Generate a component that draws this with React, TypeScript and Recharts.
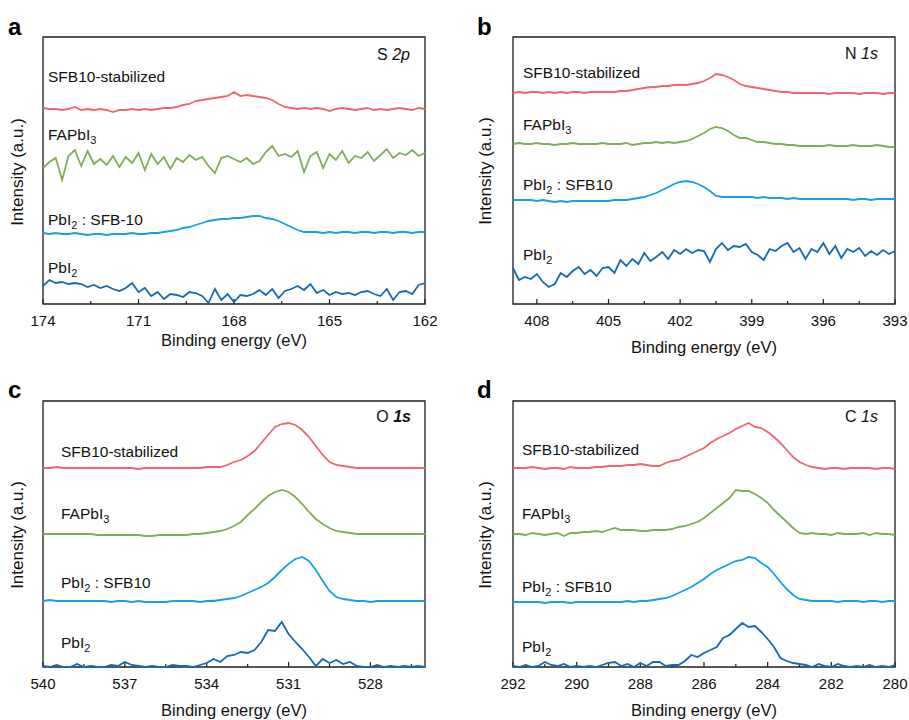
import { LineChart, Line, XAxis, YAxis, ReferenceArea, ReferenceLine } from "recharts";

// Binding energies (eV) and intensities (a.u., offset-stacked)

const energyS2p = [
  174, 173.8, 173.6, 173.4, 173.2, 173, 172.8, 172.6, 172.4, 172.2,
  172, 171.8, 171.6, 171.4, 171.2, 171, 170.8, 170.6, 170.4, 170.2,
  170, 169.8, 169.6, 169.4, 169.2, 169, 168.8, 168.6, 168.4, 168.2,
  168, 167.8, 167.6, 167.4, 167.2, 167, 166.8, 166.6, 166.4, 166.2,
  166, 165.8, 165.6, 165.4, 165.2, 165, 164.8, 164.6, 164.4, 164.2,
  164, 163.8, 163.6, 163.4, 163.2, 163, 162.8, 162.6, 162.4, 162.2,
  162,
];
const s2pStabilized = [
  196, 195, 195, 194, 195, 197, 194, 195, 194, 195,
  194, 192, 194, 194, 195, 194, 195, 194, 195, 196,
  196, 197, 199, 200, 203, 204, 205, 206, 207, 208,
  212, 208, 209, 208, 207, 206, 204, 200, 197, 196,
  195, 196, 195, 196, 195, 193, 195, 196, 195, 194,
  195, 196, 194, 195, 194, 195, 196, 195, 194, 196,
  195,
];
const s2pFapbi3 = [
  136, 142, 146, 124, 148, 154, 138, 153, 140, 145,
  139, 148, 137, 147, 141, 151, 134, 150, 140, 147,
  135, 146, 142, 149, 144, 147, 138, 131, 146, 148,
  145, 142, 146, 140, 143, 152, 158, 148, 150, 147,
  153, 132, 148, 152, 136, 150, 144, 153, 141, 148,
  146, 152, 143, 149, 155, 146, 151, 149, 154, 148,
  151,
];
const s2pMixed = [
  71, 70, 71, 70, 70, 71, 70, 69, 70, 70,
  69, 70, 70, 70, 71, 70, 70, 71, 71, 72,
  73, 74, 76, 77, 79, 81, 83, 84, 85, 85,
  86, 86, 87, 88, 88, 86, 85, 83, 80, 77,
  74, 72, 72, 72, 71, 72, 71, 72, 72, 71,
  72, 72, 71, 72, 72, 71, 72, 72, 71, 72,
  72,
];
const s2pPbi2 = [
  18, 24, 21, 22, 20, 21, 20, 17, 19, 16,
  18, 15, 13, 16, 21, 12, 16, 8, 12, 5,
  10, 9, 7, 12, 11, 8, 1, 15, 4, 10,
  2, 9, 8, 10, 14, 9, 15, 6, 13, 15,
  18, 14, 20, 11, 14, 9, 12, 10, 11, 9,
  12, 13, 10, 8, 15, 4, 12, 13, 10, 19,
  21,
];

const energyN1s = [
  409, 408.75, 408.5, 408.25, 408, 407.75, 407.5, 407.25, 407, 406.75,
  406.5, 406.25, 406, 405.75, 405.5, 405.25, 405, 404.75, 404.5, 404.25,
  404, 403.75, 403.5, 403.25, 403, 402.75, 402.5, 402.25, 402, 401.75,
  401.5, 401.25, 401, 400.75, 400.5, 400.25, 400, 399.75, 399.5, 399.25,
  399, 398.75, 398.5, 398.25, 398, 397.75, 397.5, 397.25, 397, 396.75,
  396.5, 396.25, 396, 395.75, 395.5, 395.25, 395, 394.75, 394.5, 394.25,
  394, 393.75, 393.5, 393.25, 393,
];
const n1sStabilized = [
  211, 212, 211, 212, 212, 211, 212, 211, 212, 211,
  212, 212, 211, 212, 212, 212, 212, 212, 213, 213,
  214, 215, 216, 217, 217, 218, 218, 219, 219, 219,
  220, 221, 223, 226, 230, 229, 227, 224, 220, 218,
  217, 216, 215, 214, 213, 212, 212, 211, 211, 211,
  211, 211, 211, 210, 211, 211, 211, 211, 210, 211,
  211, 211, 210, 211, 211,
];
const n1sFapbi3 = [
  160, 161, 160, 160, 161, 160, 160, 159, 160, 160,
  161, 160, 160, 160, 160, 161, 160, 160, 160, 161,
  159, 160, 161, 161, 162, 161, 162, 161, 162, 163,
  165, 168, 171, 175, 177, 176, 173, 169, 166, 166,
  164, 162, 162, 161, 160, 160, 159, 159, 158, 158,
  158, 158, 158, 159, 158, 158, 158, 159, 158, 158,
  158, 159, 158, 157, 157,
];
const n1sMixed = [
  104, 104, 104, 104, 103, 104, 103, 102, 103, 102,
  103, 103, 103, 103, 103, 103, 103, 104, 104, 104,
  105, 106, 107, 109, 111, 114, 117, 120, 122, 123,
  122, 120, 117, 113, 108, 107, 107, 107, 107, 107,
  107, 106, 107, 106, 106, 106, 105, 106, 105, 105,
  105, 105, 105, 105, 105, 105, 105, 104, 105, 105,
  104, 105, 105, 105, 105,
];
const n1sPbi2 = [
  36, 24, 27, 25, 30, 22, 17, 20, 31, 27,
  33, 37, 30, 34, 28, 36, 37, 31, 44, 38,
  45, 40, 51, 43, 47, 52, 45, 54, 50, 55,
  51, 54, 53, 42, 55, 61, 54, 58, 57, 60,
  52, 49, 44, 55, 53, 58, 61, 52, 56, 45,
  55, 52, 61, 50, 58, 46, 55, 52, 56, 48,
  53, 49, 54, 50, 53,
];

const energyO1s = [
  540, 539.75, 539.5, 539.25, 539, 538.75, 538.5, 538.25, 538, 537.75,
  537.5, 537.25, 537, 536.75, 536.5, 536.25, 536, 535.75, 535.5, 535.25,
  535, 534.75, 534.5, 534.25, 534, 533.75, 533.5, 533.25, 533, 532.75,
  532.5, 532.25, 532, 531.75, 531.5, 531.25, 531, 530.75, 530.5, 530.25,
  530, 529.75, 529.5, 529.25, 529, 528.75, 528.5, 528.25, 528, 527.75,
  527.5, 527.25, 527, 526.75, 526.5, 526.25, 526,
];
const o1sStabilized = [
  199, 199, 200, 199, 199, 199, 199, 199, 199, 199,
  199, 199, 199, 199, 198, 199, 199, 199, 199, 199,
  199, 199, 199, 199, 200, 200, 200, 202, 205, 207,
  211, 216, 224, 232, 240, 243, 244, 242, 237, 230,
  221, 212, 205, 202, 201, 200, 199, 199, 199, 199,
  199, 199, 199, 199, 199, 199, 199,
];
const o1sFapbi3 = [
  133, 133, 133, 133, 133, 133, 133, 133, 132, 132,
  132, 132, 132, 132, 132, 131, 131, 132, 132, 132,
  132, 132, 133, 133, 134, 135, 136, 138, 141, 145,
  152, 158, 165, 171, 175, 177, 175, 170, 163, 155,
  148, 143, 139, 136, 135, 134, 133, 133, 133, 133,
  133, 133, 133, 133, 133, 133, 133,
];
const o1sMixed = [
  66, 67, 66, 66, 66, 66, 66, 66, 66, 66,
  65, 66, 66, 65, 66, 65, 65, 65, 65, 66,
  66, 66, 66, 65, 66, 66, 67, 68, 69, 71,
  74, 77, 80, 84, 90, 97, 103, 108, 110, 106,
  97, 86, 76, 70, 68, 67, 66, 66, 65, 66,
  66, 66, 66, 66, 66, 66, 66,
];
const o1sPbi2 = [
  1, 0, 2, 0, 0, 3, 0, 1, 0, 0,
  2, 1, 5, 2, 1, 0, 1, 0, 0, 2,
  1, 1, 0, 2, 4, 8, 5, 11, 12, 15,
  14, 17, 25, 37, 36, 45, 33, 25, 18, 10,
  1, 8, 4, 7, 3, 5, 1, 0, 0, 2,
  0, 1, 0, 1, 0, 1, 0,
];

const energyC1s = [
  292, 291.8, 291.6, 291.4, 291.2, 291, 290.8, 290.6, 290.4, 290.2,
  290, 289.8, 289.6, 289.4, 289.2, 289, 288.8, 288.6, 288.4, 288.2,
  288, 287.8, 287.6, 287.4, 287.2, 287, 286.8, 286.6, 286.4, 286.2,
  286, 285.8, 285.6, 285.4, 285.2, 285, 284.8, 284.6, 284.4, 284.2,
  284, 283.8, 283.6, 283.4, 283.2, 283, 282.8, 282.6, 282.4, 282.2,
  282, 281.8, 281.6, 281.4, 281.2, 281, 280.8, 280.6, 280.4, 280.2,
  280,
];
const c1sStabilized = [
  199, 199, 199, 200, 199, 198, 199, 199, 198, 200,
  199, 199, 199, 200, 200, 201, 201, 201, 202, 202,
  203, 202, 201, 201, 204, 206, 207, 210, 213, 216,
  219, 224, 228, 231, 234, 238, 241, 244, 240, 239,
  235, 230, 224, 217, 210, 205, 202, 200, 199, 198,
  199, 199, 198, 199, 199, 199, 199, 198, 199, 199,
  198,
];
const c1sFapbi3 = [
  133, 133, 132, 134, 133, 132, 133, 134, 131, 134,
  134, 135, 135, 136, 135, 137, 139, 137, 137, 137,
  136, 136, 137, 137, 137, 138, 140, 141, 143, 145,
  149, 154, 159, 164, 169, 177, 176, 176, 173, 169,
  164, 157, 151, 145, 139, 134, 133, 134, 133, 133,
  132, 134, 133, 133, 133, 134, 132, 134, 133, 133,
  132,
];
const c1sMixed = [
  65, 65, 65, 65, 65, 64, 65, 65, 65, 64,
  65, 65, 65, 65, 65, 65, 65, 65, 66, 65,
  66, 66, 67, 68, 69, 71, 74, 77, 80, 84,
  88, 93, 97, 100, 103, 106, 107, 110, 109, 104,
  100, 93, 85, 78, 72, 68, 67, 66, 66, 66,
  66, 65, 66, 66, 66, 65, 66, 66, 65, 66,
  66,
];
const c1sPbi2 = [
  1, 0, 2, 0, 1, 5, 2, 1, 3, 0,
  1, 0, 1, 0, 2, 4, 5, 1, 3, 0,
  4, 1, 5, 5, 1, 2, 2, 6, 12, 10,
  14, 17, 20, 29, 32, 38, 44, 40, 41, 35,
  28, 20, 9, 6, 4, 3, 2, 0, 3, 1,
  0, 3, 1, 0, 1, 0, 2, 0, 1, 0,
  2,
];

// axis ticks (majors get a label, the rest are short minor ticks)
const ticksS2p = [174, 172.5, 171, 169.5, 168, 166.5, 165, 163.5, 162];
const majorsS2p = [174, 171, 168, 165, 162];
const ticksN1s = [408, 406.5, 405, 403.5, 402, 400.5, 399, 397.5, 396, 394.5, 393];
const majorsN1s = [408, 405, 402, 399, 396, 393];
const ticksO1s = [540, 538.5, 537, 535.5, 534, 532.5, 531, 529.5, 528, 526.5];
const majorsO1s = [540, 537, 534, 531, 528];
const ticksC1s = [292, 291, 290, 289, 288, 287, 286, 285, 284, 283, 282, 281, 280];
const majorsC1s = [292, 290, 288, 286, 284, 282, 280];

const FONT = "Arial, 'Liberation Sans', Helvetica, sans-serif";
const AXIS = "#1e1e1e";
const COLORS = {
  stabilized: "#f0666a",
  fapbi3: "#80ad5b",
  mixed: "#1aa0e2",
  pbi2: "#1868b7",
};

function buildRows(energy: number[], s: number[], f: number[], m: number[], p: number[]) {
  return energy.map((e, i) => ({ e, stabilized: s[i], fapbi3: f[i], mixed: m[i], pbi2: p[i] }));
}

// tick labels only; the tick marks themselves are drawn inward as reference segments
const makeTick = (majors: number[]) => (props: any) => {
  const { x, y, payload } = props;
  const v = payload.value;
  if (!majors.includes(v)) return <g />;
  return (
    <text x={x} y={y + 16} textAnchor="middle" dominantBaseline="central" fontSize={15} fontFamily={FONT} fill="#111">
      {v}
    </text>
  );
};

interface PanelProps {
  left: number;
  top: number;
  width: number;
  margin: { top: number; right: number; bottom: number; left: number };
  domain: [number, number];
  ticks: number[];
  majors: number[];
  rows: any[];
  yMax: number;
}

function Panel({ left, top, width, margin, domain, ticks, majors, rows, yMax }: PanelProps) {
  return (
    <div style={{ position: "absolute", left, top, width, height: 360 }}>
      <LineChart width={width} height={360} data={rows} margin={margin}>
        <XAxis
          dataKey="e"
          type="number"
          domain={domain}
          reversed
          ticks={ticks}
          interval={0}
          height={50}
          tickSize={0}
          tickMargin={0}
          tickLine={false}
          axisLine={false}
          tick={makeTick(majors)}
        />
        <YAxis type="number" domain={[0, yMax]} hide />
        <ReferenceArea
          x1={domain[0]}
          x2={domain[1]}
          y1={0}
          y2={yMax}
          fill="none"
          fillOpacity={0}
          stroke={AXIS}
          strokeWidth={1.3}
          strokeOpacity={1}
        />
        {ticks.map((t) => (
          <ReferenceLine
            key={t}
            segment={[
              { x: t, y: 0 },
              { x: t, y: majors.includes(t) ? 5 : 3 },
            ]}
            stroke={AXIS}
            strokeWidth={1.2}
          />
        ))}
        <Line type="linear" dataKey="stabilized" stroke={COLORS.stabilized} strokeWidth={1.8} dot={false} isAnimationActive={false} />
        <Line type="linear" dataKey="fapbi3" stroke={COLORS.fapbi3} strokeWidth={1.8} dot={false} isAnimationActive={false} />
        <Line type="linear" dataKey="mixed" stroke={COLORS.mixed} strokeWidth={1.8} dot={false} isAnimationActive={false} />
        <Line type="linear" dataKey="pbi2" stroke={COLORS.pbi2} strokeWidth={1.8} dot={false} isAnimationActive={false} />
      </LineChart>
    </div>
  );
}

function Sub({ base, sub, rest }: { base: string; sub: string; rest?: string }) {
  return (
    <>
      {base}
      <tspan dy={4} fontSize={11}>
        {sub}
      </tspan>
      {rest && <tspan dy={-4}>{rest}</tspan>}
    </>
  );
}

function SeriesLabels({ x, ys, mixedName }: { x: number; ys: number[]; mixedName: string }) {
  return (
    <g fontSize={15.5} fontFamily={FONT} fill="#111">
      <text x={x} y={ys[0]}>SFB10-stabilized</text>
      <text x={x} y={ys[1]}>
        <Sub base="FAPbI" sub="3" />
      </text>
      <text x={x} y={ys[2]}>
        <Sub base="PbI" sub="2" rest={` : ${mixedName}`} />
      </text>
      <text x={x} y={ys[3]}>
        <Sub base="PbI" sub="2" />
      </text>
    </g>
  );
}

function Overlay() {
  const ylab = (cx: number, cy: number) => (
    <text
      x={cx}
      y={cy}
      transform={`rotate(-90 ${cx} ${cy})`}
      textAnchor="middle"
      dominantBaseline="central"
      fontSize={17}
      fontFamily={FONT}
      fill="#111"
    >
      Intensity (a.u.)
    </text>
  );
  const xlab = (cx: number, cy: number) => (
    <text x={cx} y={cy} textAnchor="middle" dominantBaseline="central" fontSize={16.5} fontFamily={FONT} fill="#111">
      Binding energy (eV)
    </text>
  );
  return (
    <svg width={909} height={720} style={{ position: "absolute", left: 0, top: 0, pointerEvents: "none" }}>
      <g fontSize={24} fontWeight="bold" fontFamily={FONT} fill="#000">
        <text x={8} y={35}>a</text>
        <text x={477} y={35}>b</text>
        <text x={8} y={398}>c</text>
        <text x={477} y={398}>d</text>
      </g>

      {ylab(17, 172)}
      {ylab(485, 171)}
      {ylab(17, 535)}
      {ylab(485, 535)}

      {xlab(234, 340)}
      {xlab(704, 347)}
      {xlab(234, 710)}
      {xlab(704, 710)}

      <g fontSize={16} fontFamily={FONT} fill="#111" textAnchor="end">
        <text x={410} y={60}>
          S <tspan fontStyle="italic">2p</tspan>
        </text>
        <text x={878} y={59}>
          N <tspan fontStyle="italic">1s</tspan>
        </text>
        <text x={411} y={422}>
          O{" "}
          <tspan fontStyle="italic" fontWeight="bold">
            1s
          </tspan>
        </text>
        <text x={878} y={422}>
          C <tspan fontStyle="italic">1s</tspan>
        </text>
      </g>

      <SeriesLabels x={48} ys={[82, 140, 225, 273]} mixedName="SFB-10" />
      <SeriesLabels x={523} ys={[78, 130, 190, 260]} mixedName="SFB10" />
      <SeriesLabels x={61} ys={[457, 519, 588, 648]} mixedName="SFB10" />
      <SeriesLabels x={522} ys={[455, 519, 592, 652]} mixedName="SFB10" />
    </svg>
  );
}

export default function App() {
  return (
    <div style={{ position: "absolute", left: 0, top: 0, width: 909, height: 720, background: "#fff", fontFamily: FONT }}>
      <Panel
        left={0}
        top={0}
        width={455}
        margin={{ top: 37, right: 30, bottom: 6, left: 43 }}
        domain={[162, 174]}
        ticks={ticksS2p}
        majors={majorsS2p}
        rows={buildRows(energyS2p, s2pStabilized, s2pFapbi3, s2pMixed, s2pPbi2)}
        yMax={267}
      />
      <Panel
        left={460}
        top={0}
        width={449}
        margin={{ top: 37, right: 14, bottom: 6, left: 53 }}
        domain={[393, 409]}
        ticks={ticksN1s}
        majors={majorsN1s}
        rows={buildRows(energyN1s, n1sStabilized, n1sFapbi3, n1sMixed, n1sPbi2)}
        yMax={267}
      />
      <Panel
        left={0}
        top={360}
        width={455}
        margin={{ top: 41, right: 30, bottom: 3, left: 43 }}
        domain={[526, 540]}
        ticks={ticksO1s}
        majors={majorsO1s}
        rows={buildRows(energyO1s, o1sStabilized, o1sFapbi3, o1sMixed, o1sPbi2)}
        yMax={266}
      />
      <Panel
        left={460}
        top={360}
        width={449}
        margin={{ top: 41, right: 14, bottom: 3, left: 53 }}
        domain={[280, 292]}
        ticks={ticksC1s}
        majors={majorsC1s}
        rows={buildRows(energyC1s, c1sStabilized, c1sFapbi3, c1sMixed, c1sPbi2)}
        yMax={266}
      />
      <Overlay />
    </div>
  );
}
